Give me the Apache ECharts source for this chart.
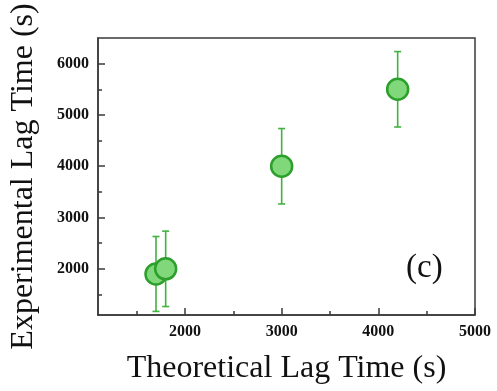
<!DOCTYPE html>
<html>
<head>
<meta charset="utf-8">
<script src="https://cdn.jsdelivr.net/npm/echarts@6/dist/echarts.min.js"></script>
<style>html,body{margin:0;padding:0;background:#fff;}#chart{width:497px;height:391px;}</style>
</head>
<body>
<div id="chart"></div>
<script>
// Data
var theoretical = [1700, 1800, 3000, 4200];
var experimental = [1900, 2000, 4000, 5500];
var expError = [730, 735, 735, 735];
var xTicks = [2000, 3000, 4000, 5000];
var xMinorTicks = [1500, 2500, 3500, 4500];
var yTicks = [2000, 3000, 4000, 5000, 6000];
var yMinorTicks = [1500, 2500, 3500, 4500, 5500];
var xTitle = 'Theoretical Lag Time (s)';
var yTitle = 'Experimental Lag Time (s)';
var panelLabel = '(c)';

var points = theoretical.map(function (x, i) { return [x, experimental[i]]; });
var bars = theoretical.map(function (x, i) { return [x, experimental[i] - expError[i], experimental[i] + expError[i]]; });

var serif = 'Liberation Serif';
var axisCol = '#3a3a3a';
var X_MIN = 1100, X_MAX = 5000, Y_MIN = 1100, Y_MAX = 6500;

function minorAxis(pos, min, max, vals) {
  return {
    type: 'value', position: pos, min: min, max: max,
    axisLine: {show: false},
    axisTick: {show: true, inside: true, length: 4, customValues: vals, lineStyle: {color: axisCol, width: 1.5}},
    axisLabel: {show: false},
    splitLine: {show: false}
  };
}
function plain(v) { return String(v); }

var chart = echarts.init(document.getElementById('chart'), null, {renderer: 'canvas'});
chart.setOption({
  animation: false,
  backgroundColor: '#fff',
  grid: {left: 97, right: 22, top: 38, bottom: 76, show: true, borderColor: axisCol, borderWidth: 1.5, backgroundColor: 'transparent'},
  xAxis: [{
    type: 'value', position: 'bottom', min: X_MIN, max: X_MAX,
    name: xTitle, nameLocation: 'middle', nameGap: 38,
    nameTextStyle: {fontFamily: serif, fontSize: 32, color: '#111'},
    axisLine: {show: true, onZero: false, lineStyle: {color: axisCol, width: 1.5}},
    axisTick: {show: true, inside: true, length: 7, customValues: xTicks, lineStyle: {color: axisCol, width: 1.5}},
    splitLine: {show: false},
    axisLabel: {fontFamily: serif, fontWeight: 'bold', fontSize: 16, color: '#111', margin: 9, customValues: xTicks, formatter: plain}
  }, minorAxis('bottom', X_MIN, X_MAX, xMinorTicks)],
  yAxis: [{
    type: 'value', position: 'left', min: Y_MIN, max: Y_MAX,
    name: yTitle, nameLocation: 'middle', nameGap: 58,
    nameTextStyle: {fontFamily: serif, fontSize: 32, color: '#111'},
    axisLine: {show: true, onZero: false, lineStyle: {color: axisCol, width: 1.5}},
    axisTick: {show: true, inside: true, length: 7, customValues: yTicks, lineStyle: {color: axisCol, width: 1.5}},
    splitLine: {show: false},
    axisLabel: {fontFamily: serif, fontWeight: 'bold', fontSize: 16, color: '#111', margin: 9, customValues: yTicks, formatter: plain}
  }, minorAxis('left', Y_MIN, Y_MAX, yMinorTicks)],
  series: [
    {
      type: 'custom',
      data: bars,
      encode: {x: 0, y: [1, 2]},
      z: 1,
      renderItem: function (params, api) {
        var x = api.value(0);
        var lo = api.coord([x, api.value(1)]);
        var hi = api.coord([x, api.value(2)]);
        var cw = 3.5;
        var st = {stroke: '#3fb23f', lineWidth: 1.6};
        return {
          type: 'group',
          children: [
            {type: 'line', shape: {x1: lo[0], y1: lo[1], x2: hi[0], y2: hi[1]}, style: st},
            {type: 'line', shape: {x1: lo[0] - cw, y1: lo[1], x2: lo[0] + cw, y2: lo[1]}, style: st},
            {type: 'line', shape: {x1: hi[0] - cw, y1: hi[1], x2: hi[0] + cw, y2: hi[1]}, style: st}
          ]
        };
      }
    },
    {
      type: 'scatter',
      data: points,
      symbol: 'circle',
      symbolSize: 21,
      z: 2,
      itemStyle: {color: '#80d87a', borderColor: '#2c9f2c', borderWidth: 2.5, opacity: 1}
    }
  ],
  graphic: [
    {type: 'text', left: 406, top: 252, style: {text: panelLabel, font: '33px "Liberation Serif"', fill: '#111'}}
  ]
});
</script>
</body>
</html>
